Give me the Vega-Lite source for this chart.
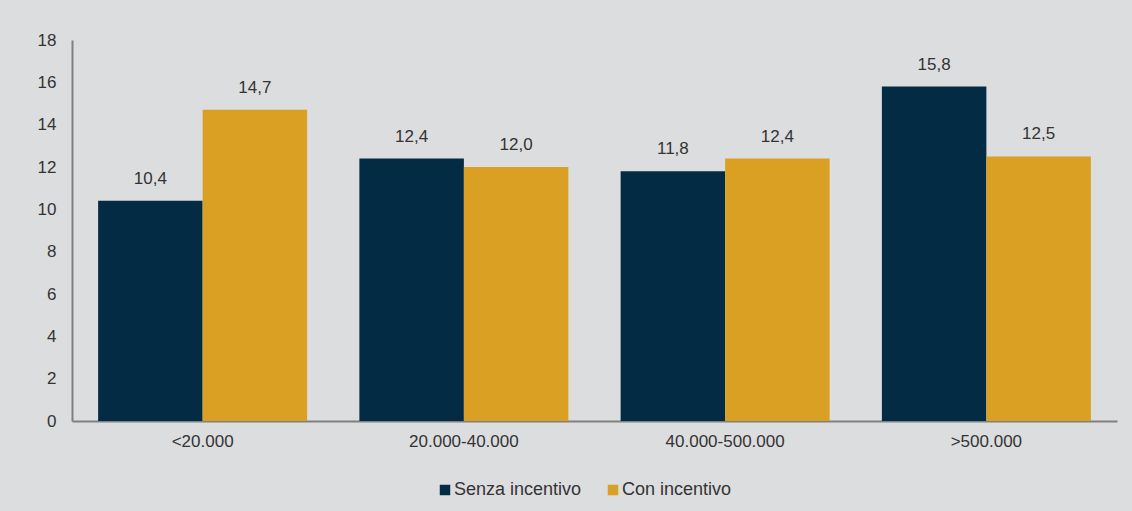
{
  "$schema": "https://vega.github.io/schema/vega-lite/v6.json",
  "width": 1045,
  "height": 381,
  "autosize": {"type": "none"},
  "padding": {"left": 72, "top": 40, "right": 15, "bottom": 90},
  "background": "#dcdddf",
  "config": {
    "view": {"stroke": null},
    "font": "Liberation Sans",
    "locale": {"number": {"decimal": ",", "thousands": ".", "grouping": [3], "currency": ["€", ""]}}
  },
  "data": {
    "values": [
      {"classe": "<20.000", "serie": "Senza incentivo", "valore": 10.4},
      {"classe": "<20.000", "serie": "Con incentivo", "valore": 14.7},
      {"classe": "20.000-40.000", "serie": "Senza incentivo", "valore": 12.4},
      {"classe": "20.000-40.000", "serie": "Con incentivo", "valore": 12.0},
      {"classe": "40.000-500.000", "serie": "Senza incentivo", "valore": 11.8},
      {"classe": "40.000-500.000", "serie": "Con incentivo", "valore": 12.4},
      {"classe": ">500.000", "serie": "Senza incentivo", "valore": 15.8},
      {"classe": ">500.000", "serie": "Con incentivo", "valore": 12.5}
    ]
  },
  "encoding": {
    "x": {
      "field": "classe", "type": "nominal",
      "sort": ["<20.000", "20.000-40.000", "40.000-500.000", ">500.000"],
      "scale": {"paddingInner": 0.2, "paddingOuter": 0.1},
      "axis": {"title": null, "labelAngle": 0, "ticks": false, "labelPadding": 12, "labelFontSize": 17, "labelColor": "#333333", "domainColor": "#808080", "domainWidth": 2}
    },
    "xOffset": {"field": "serie", "type": "nominal", "sort": ["Senza incentivo", "Con incentivo"], "scale": {"paddingInner": 0, "paddingOuter": 0}},
    "y": {
      "field": "valore", "type": "quantitative",
      "scale": {"domain": [0, 18], "nice": false},
      "axis": {"title": null, "values": [0, 2, 4, 6, 8, 10, 12, 14, 16, 18], "grid": false, "ticks": false, "labelPadding": 16, "labelFontSize": 17, "labelColor": "#333333", "domainColor": "#808080", "domainWidth": 2}
    }
  },
  "layer": [
    {
      "mark": {"type": "bar"},
      "encoding": {
        "color": {
          "field": "serie", "type": "nominal",
          "sort": ["Senza incentivo", "Con incentivo"],
          "scale": {"domain": ["Senza incentivo", "Con incentivo"], "range": ["#042b44", "#d9a023"]},
          "legend": {"title": null, "orient": "none", "legendX": 364, "legendY": 441, "direction": "horizontal", "symbolType": "square", "symbolSize": 110, "symbolStrokeWidth": 0, "labelFontSize": 18, "labelColor": "#333333", "labelOffset": 0, "columnPadding": 22, "padding": 0}
        }
      }
    },
    {
      "mark": {"type": "text", "baseline": "bottom", "dy": -13, "fontSize": 17, "color": "#333333"},
      "encoding": {
        "text": {"field": "valore", "type": "quantitative", "format": ".1f"}
      }
    }
  ]
}
